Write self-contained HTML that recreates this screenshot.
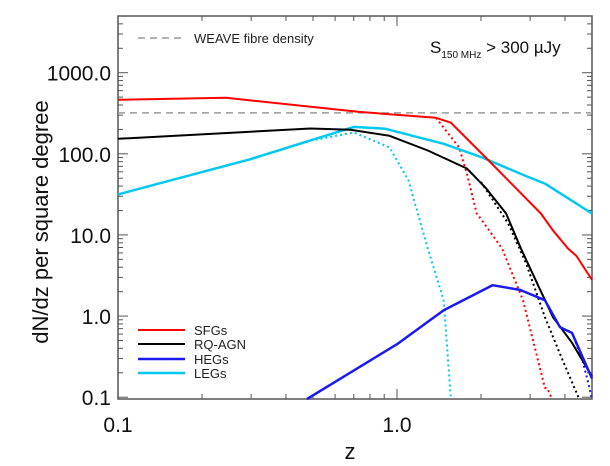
<!DOCTYPE html>
<html><head><meta charset="utf-8"><style>
html,body{margin:0;padding:0;background:#fff;}
svg{display:block;font-family:"Liberation Sans",sans-serif;}
</style></head><body>
<svg id="chart" width="610" height="466" viewBox="0 0 610 466" xmlns="http://www.w3.org/2000/svg">
<g id="axes"></g>
<g id="series"></g>
<g id="legend">
  <line x1="138" y1="38" x2="182" y2="38" stroke="#999" stroke-width="1.5" stroke-dasharray="7,5"/>
  <text x="194" y="43" font-size="13" fill="#222">WEAVE fibre density</text>
  <text x="430" y="53" font-size="17" fill="#111">S<tspan font-size="10" dy="5">150 MHz</tspan><tspan dy="-5"> &gt; 300 µJy</tspan></text>
  <line x1="138" y1="330" x2="185" y2="330" stroke="#f00" stroke-width="2"/>
  <text x="194" y="335" font-size="13" fill="#222">SFGs</text>
  <line x1="138" y1="344" x2="185" y2="344" stroke="#000" stroke-width="2"/>
  <text x="194" y="349" font-size="13" fill="#222">RQ-AGN</text>
  <line x1="138" y1="359" x2="185" y2="359" stroke="#1a1af0" stroke-width="2.5"/>
  <text x="194" y="364" font-size="13" fill="#222">HEGs</text>
  <line x1="138" y1="373" x2="185" y2="373" stroke="#00c8f0" stroke-width="2.5"/>
  <text x="194" y="378" font-size="13" fill="#222">LEGs</text>
</g>
<text x="350" y="459" font-size="22" text-anchor="middle" fill="#111">z</text>
<text transform="translate(48,222) rotate(-90)" font-size="22" text-anchor="middle" fill="#111">dN/dz per square degree</text>
</svg>
<script>
const xTickValues = [0.1, 1.0];
const xTickLabels = ["0.1", "1.0"];
const yTickValues = [0.1, 1, 10, 100, 1000];
const yTickLabels = ["0.1", "1.0", "10.0", "100.0", "1000.0"];
const weaveDensity = 320;
const sfgZ = [0.1, 0.244, 0.725, 1.38, 1.56, 2.08, 3.28, 3.62, 4.1, 4.4, 5.0];
const sfgN = [464, 490, 330, 278, 242, 90, 18.4, 11.4, 6.8, 5.5, 2.8];
const sfgDotZ = [1.38, 1.67, 1.78, 1.93, 2.02, 2.38, 2.83, 3.39, 3.45, 3.6];
const sfgDotN = [278, 120, 57, 18.4, 15, 6.8, 1.57, 0.13, 0.13, 0.095];
const rqZ = [0.1, 0.49, 0.68, 0.94, 1.29, 1.78, 2.08, 2.46, 2.78, 3.62, 4.24, 5.0];
const rqN = [153, 205, 198, 167, 110, 66, 38, 18.4, 6.8, 0.97, 0.47, 0.18];
const rqDotZ = [2.0, 2.5, 2.9, 3.39, 3.9, 4.5];
const rqDotN = [45, 14, 4.5, 0.97, 0.3, 0.095];
const hegZ = [0.476, 1.0, 1.47, 2.2, 2.76, 3.39, 3.84, 4.24, 5.0];
const hegN = [0.095, 0.45, 1.18, 2.4, 2.1, 1.57, 0.73, 0.62, 0.17];
const hegDotZ = [4.24, 4.6, 4.85, 5.0];
const hegDotN = [0.62, 0.3, 0.15, 0.095];
const legZ = [0.1, 0.295, 0.7, 0.906, 1.47, 2.02, 2.87, 3.39, 5.0];
const legN = [31.6, 85, 215, 204, 133, 90, 54, 43, 18.4];
const legDotZ = [0.1, 0.295, 0.49, 0.7, 0.94, 1.1, 1.29, 1.47, 1.56];
const legDotN = [31.6, 85, 145, 183, 120, 47, 6.8, 1.57, 0.095];

const L=118, R=592, T=16, B=399;
const xMin=0.1, xMax=5, yMin=0.095, yMax=5000;
function xs(v){return L+(Math.log10(v)-Math.log10(xMin))/(Math.log10(xMax)-Math.log10(xMin))*(R-L);}
function ys(v){return B-(Math.log10(v)-Math.log10(yMin))/(Math.log10(yMax)-Math.log10(yMin))*(B-T);}
const NS="http://www.w3.org/2000/svg";
function mk(tag,attrs,parent){const e=document.createElementNS(NS,tag);for(const k in attrs)e.setAttribute(k,attrs[k]);parent.appendChild(e);return e;}
const axes=document.getElementById('axes');
const frame=mk('rect',{x:L,y:T,width:R-L,height:B-T,fill:'none',stroke:'#555','stroke-width':1.5},axes);


for(let d=0.1;d<5;d*=10){for(let m=1;m<=9;m++){const v=d*m;if(v>xMax+1e-9)break;const x=xs(v);const len=m===1?10:5;
 const t1=mk('line',{x1:x,y1:B,x2:x,y2:B-len,stroke:'#555','stroke-width':1},axes);
 
 
 const t2=mk('line',{x1:x,y1:T,x2:x,y2:T+len,stroke:'#555','stroke-width':1},axes);
 
 }}
xTickValues.forEach((v,i)=>{const t=mk('text',{x:xs(v),y:432,'font-size':21,'text-anchor':'middle',fill:'#111'},axes);t.textContent=xTickLabels[i];
 
 });
for(let d=0.01;d<5000;d*=10){for(let m=1;m<=9;m++){const v=d*m;if(v<yMin||v>yMax)continue;const y=ys(v);const len=m===1?10:5;
 const t1=mk('line',{x1:L,y1:y,x2:L+len,y2:y,stroke:'#555','stroke-width':1},axes);
 
 
 const t2=mk('line',{x1:R,y1:y,x2:R-len,y2:y,stroke:'#555','stroke-width':1},axes);
 
 }}
yTickValues.forEach((v,i)=>{const t=mk('text',{x:111,y:ys(v)+8,'font-size':21,'text-anchor':'end',fill:'#111'},axes);t.textContent=yTickLabels[i];
 
 });
const series=document.getElementById('series');
const wl=mk('line',{x1:L,y1:ys(weaveDensity),x2:R,y2:ys(weaveDensity),stroke:'#999','stroke-width':1.5,'stroke-dasharray':'7,5'},series);


function path(zs,ns,color,w,dot,name){const d=zs.map((z,i)=>(i?'L':'M')+xs(z).toFixed(1)+','+ys(ns[i]).toFixed(1)).join(' ');
 const p=mk('path',{d:d,fill:'none',stroke:color,'stroke-width':w,'stroke-linejoin':'round'},series);
 if(dot)p.setAttribute('stroke-dasharray','2,3');
 
 }
path(legDotZ,legDotN,'#00c8f0',2,true,'legs-dotted-line');
path(sfgDotZ,sfgDotN,'#f00',2,true,'sfgs-dotted-line');
path(rqDotZ,rqDotN,'#000',2,true,'rqagn-dotted-line');
path(hegDotZ,hegDotN,'#1a1af0',2,true,'hegs-dotted-line');
path(legZ,legN,'#00c8f0',2.5,false,'legs-line');
path(sfgZ,sfgN,'#f00',2,false,'sfgs-line');
path(rqZ,rqN,'#000',2,false,'rqagn-line');
path(hegZ,hegN,'#1a1af0',2.5,false,'hegs-line');
</script>
</body></html>
